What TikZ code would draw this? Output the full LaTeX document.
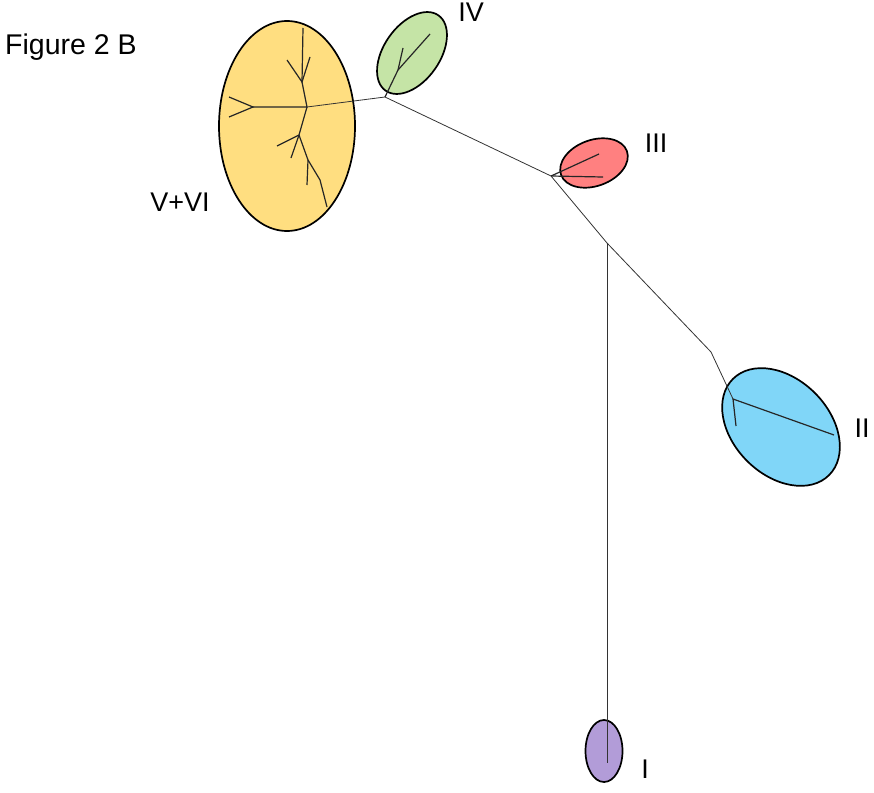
\documentclass[tikz,border=0pt]{standalone}
\usepackage{fontspec}
\setmainfont{Liberation Sans}
\usetikzlibrary{calc}

\definecolor{cladeyellow}{RGB}{255,222,128}
\definecolor{cladegreen}{RGB}{197,228,166}
\definecolor{cladered}{RGB}{255,128,128}
\definecolor{cladeblue}{RGB}{128,214,248}
\definecolor{cladepurple}{RGB}{178,156,216}

\begin{document}
\begin{tikzpicture}[x=1pt,y=1pt,
    clade/.style={line width=1.7pt, draw=black},
    branch/.style={line width=1.2pt, draw=black!85},
    link/.style={line width=0.8pt, draw=black!80},
    lbl/.style={font=\fontsize{27}{30}\selectfont, anchor=base, inner sep=0pt}]
\useasboundingbox (0,0) rectangle (874,-792);

% Clade outlines (drawn first, the tree lies on top)
\filldraw[clade, fill=cladeyellow] (287,-126) ellipse (68 and 105);
\filldraw[clade, fill=cladegreen, rotate around={55:(412,-53)}] (412,-53) ellipse (46 and 28);
\filldraw[clade, fill=cladered, rotate around={20:(594,-163)}] (594,-163) ellipse (35 and 23);
\filldraw[clade, fill=cladeblue, rotate around={-45:(781,-427)}] (781,-427) ellipse (68 and 48);
\filldraw[clade, fill=cladepurple] (604,-751) ellipse (18.5 and 31);

% Backbone junctions
\coordinate (jIV) at (385,-97);
\coordinate (jIII) at (551,-176);
\coordinate (jI) at (607,-243);
\coordinate (bendII) at (711,-352);
\coordinate (tipI) at (607,-763);

% Yellow clade (V+VI)
\coordinate (y0) at (307,-107);
\coordinate (yl) at (253,-107);
\coordinate (yl1) at (229,-97);
\coordinate (yl2) at (229,-117);
\coordinate (yu) at (302,-82);
\coordinate (yu1) at (303,-28);
\coordinate (yu2) at (287,-60);
\coordinate (yu3) at (310,-57);
\coordinate (yd) at (299,-135);
\coordinate (yd1) at (277,-146);
\coordinate (yd2) at (291,-158);
\coordinate (ydd) at (308,-160);
\coordinate (ydd1) at (307,-185);
\coordinate (ydd2) at (320,-180);
\coordinate (ydd3) at (327,-207);

\draw[branch] (yl1) -- (yl) -- (yl2);
\draw[branch] (yl) -- (y0) -- (yu) -- (yu1);
\draw[branch] (yu2) -- (yu) -- (yu3);
\draw[branch] (y0) -- (yd) -- (yd1);
\draw[branch] (yd) -- (yd2);
\draw[branch] (yd) -- (ydd) -- (ydd1);
\draw[branch] (ydd) -- (ydd2) -- (ydd3);

% Green clade (IV)
\coordinate (g1) at (398,-70);
\coordinate (g2) at (403,-48);
\coordinate (g3) at (430,-34);
\draw[branch] (jIV) -- (g1) -- (g2);
\draw[branch] (g1) -- (g3);

% Red clade (III)
\coordinate (r1) at (562,-171);
\coordinate (r2) at (599,-154);
\coordinate (r3) at (603,-177);
\draw[branch] (jIII) -- (r1) -- (r2);
\draw[branch] (jIII) -- (r3);

% Blue clade (II)
\coordinate (b0) at (733,-399);
\coordinate (b1) at (736,-426);
\coordinate (b2) at (834,-435);
\draw[branch] (b1) -- (b0) -- (b2);

% Backbone
\draw[link] (y0) -- (jIV) -- (jIII) -- (jI) -- (bendII) -- (b0);
\draw[link] (jI) -- (tipI);

% Labels
\node[lbl, anchor=base west, font=\fontsize{28.5}{32}\selectfont] (title) at (5,-55) {Figure 2 B};
\node[lbl] (labVVI) at (180,-211) {V+VI};
\node[lbl] (labIV) at (471,-22) {IV};
\node[lbl] (labIII) at (656,-152) {III};
\node[lbl] (labII) at (862,-437) {II};
\node[lbl] (labI) at (645,-778) {I};
\end{tikzpicture}
\end{document}
